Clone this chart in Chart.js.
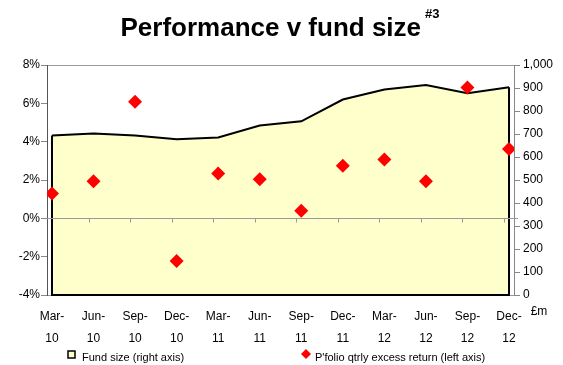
<!DOCTYPE html>
<html>
<head>
<meta charset="utf-8">
<title>Performance v fund size</title>
<script src="https://cdn.jsdelivr.net/npm/chart.js@4"></script>
<style>
  html, body { margin: 0; padding: 0; background: #fff; }
  #wrap { width: 563px; height: 365px; }
</style>
</head>
<body>
<div id="wrap"><canvas id="perfChart" width="563" height="365"></canvas></div>
<script>
// Quarter ends, fund size (£m, right axis) and quarterly excess return (%, left axis)
const quarters = ['Mar-10', 'Jun-10', 'Sep-10', 'Dec-10', 'Mar-11', 'Jun-11',
                  'Sep-11', 'Dec-11', 'Mar-12', 'Jun-12', 'Sep-12', 'Dec-12'];
const fundSize = [693, 702, 693, 677, 685, 737, 755, 850, 893, 913, 877, 903];
const excessReturn = [1.30, 1.94, 6.08, -2.23, 2.34, 2.04, 0.39, 2.75, 3.07, 1.94, 6.83, 3.62];

const returnTicks = [-4, -2, 0, 2, 4, 6, 8];
const sizeTicks = [0, 100, 200, 300, 400, 500, 600, 700, 800, 900, 1000];

const FONT = "'Liberation Sans', Arial, sans-serif";

// Outline the sides/bottom of the fund-size area and draw the 0% line over it
const areaEdges = {
    id: 'areaEdges',
    afterDatasetDraw(chart, args) {
        if (args.index !== 0) return;
        const pts = args.meta.data;
        const ctx = chart.ctx;
        const bottom = chart.scales.y1.getPixelForValue(0);
        const first = pts[0], last = pts[pts.length - 1];
        ctx.save();
        ctx.strokeStyle = '#000';
        ctx.lineWidth = 2;
        ctx.lineJoin = 'miter';
        ctx.beginPath();
        ctx.moveTo(first.x, first.y);
        ctx.lineTo(first.x, bottom);
        ctx.lineTo(last.x, bottom);
        ctx.lineTo(last.x, last.y);
        ctx.stroke();

        // zero line with small category ticks
        const y0 = Math.round(chart.scales.y.getPixelForValue(0)) + 0.5;
        const area = chart.chartArea;
        ctx.strokeStyle = '#999';
        ctx.lineWidth = 1;
        ctx.beginPath();
        ctx.moveTo(area.left, y0);
        ctx.lineTo(area.right + 4, y0);
        for (let i = 1; i < quarters.length; i++) {
            const x = Math.round(chart.scales.x.getPixelForValue(i - 0.12)) + 0.5;
            ctx.moveTo(x, y0);
            ctx.lineTo(x, y0 + 4);
        }
        ctx.stroke();
        ctx.restore();
    }
};

// Title with superscript, '£m' unit label and the legend row
const decorations = {
    id: 'decorations',
    afterDraw(chart) {
        const ctx = chart.ctx;
        ctx.save();
        ctx.fillStyle = '#000';
        ctx.textBaseline = 'alphabetic';
        ctx.textAlign = 'left';

        const main = 'Performance v fund size';
        const sup = '#3';
        ctx.font = 'bold 26px ' + FONT;
        const wMain = ctx.measureText(main).width;
        ctx.font = 'bold 13px ' + FONT;
        const wSup = ctx.measureText(sup).width;
        const startX = 280 - (wMain + 4 + wSup) / 2;
        ctx.font = 'bold 26px ' + FONT;
        ctx.fillText(main, startX, 36);
        ctx.font = 'bold 13px ' + FONT;
        ctx.fillText(sup, startX + wMain + 4, 18);

        ctx.font = '12px ' + FONT;
        ctx.textAlign = 'center';
        ctx.fillText('£m', 539, 315);

        // legend
        ctx.font = '11px ' + FONT;
        ctx.textAlign = 'left';
        ctx.fillStyle = '#FFFFCC';
        ctx.fillRect(68, 351, 7, 7);
        ctx.strokeStyle = '#000';
        ctx.lineWidth = 1.5;
        ctx.strokeRect(68, 351, 7, 7);
        ctx.fillStyle = '#000';
        ctx.fillText('Fund size (right axis)', 82, 361);

        ctx.fillStyle = '#FF0000';
        ctx.beginPath();
        ctx.moveTo(306, 349);
        ctx.lineTo(311, 354);
        ctx.lineTo(306, 359);
        ctx.lineTo(301, 354);
        ctx.closePath();
        ctx.fill();
        ctx.fillStyle = '#000';
        ctx.fillText("P'folio qtrly excess return (left axis)", 315, 361);
        ctx.restore();
    }
};

const ctx = document.getElementById('perfChart').getContext('2d');
new Chart(ctx, {
    data: {
        datasets: [{
            type: 'line',
            label: 'Fund size (right axis)',
            data: fundSize.map((v, i) => ({ x: i, y: v })),
            yAxisID: 'y1',
            order: 2,
            fill: 'origin',
            backgroundColor: '#FFFFCC',
            borderColor: '#000',
            borderWidth: 2,
            pointRadius: 0,
            tension: 0
        }, {
            type: 'scatter',
            label: "P'folio qtrly excess return (left axis)",
            data: excessReturn.map((v, i) => ({ x: i, y: v })),
            yAxisID: 'y',
            order: 1,
            pointStyle: 'rectRot',
            pointRadius: 7,
            pointBackgroundColor: '#FF0000',
            pointBorderColor: '#FF0000',
            pointBorderWidth: 0
        }]
    },
    options: {
        responsive: false,
        animation: false,
        layout: { padding: { top: 65, left: 0, right: 0, bottom: 20 } },
        plugins: {
            legend: { display: false },
            title: { display: false },
            tooltip: { enabled: false }
        },
        scales: {
            x: {
                type: 'linear',
                min: -0.12,
                max: quarters.length - 1 + 0.12,
                afterBuildTicks: scale => { scale.ticks = quarters.map((q, i) => ({ value: i })); },
                afterFit: scale => { scale.height = 50; },
                grid: { display: false, drawTicks: false },
                border: { display: true, color: '#999' },
                ticks: {
                    autoSkip: false,
                    maxRotation: 0,
                    padding: 11,
                    color: '#000',
                    font: { family: FONT, size: 12, lineHeight: '22px' },
                    callback: v => {
                        const q = quarters[Math.round(v)];
                        if (!q) return '';
                        const parts = q.split('-');
                        return [parts[0] + '-', parts[1]];
                    }
                }
            },
            y: {
                position: 'left',
                min: -4,
                max: 8,
                afterBuildTicks: scale => { scale.ticks = returnTicks.map(v => ({ value: v })); },
                afterFit: scale => { scale.width = 47; },
                grid: {
                    drawOnChartArea: true,
                    color: c => (c.tick && c.tick.value === 8 ? '#999' : 'rgba(0,0,0,0)'),
                    tickColor: '#888',
                    tickLength: 6
                },
                border: { display: true, color: '#555', width: 1 },
                ticks: {
                    padding: 1,
                    color: '#000',
                    font: { family: FONT, size: 12 },
                    callback: v => v + '%'
                }
            },
            y1: {
                position: 'right',
                min: 0,
                max: 1000,
                afterBuildTicks: scale => { scale.ticks = sizeTicks.map(v => ({ value: v })); },
                afterFit: scale => { scale.width = 49; },
                grid: { drawOnChartArea: false, tickColor: '#888', tickLength: 6 },
                border: { display: true, color: '#888', width: 1 },
                ticks: {
                    padding: 3,
                    color: '#000',
                    font: { family: FONT, size: 12 },
                    callback: v => v.toLocaleString('en-GB')
                }
            }
        }
    },
    plugins: [areaEdges, decorations]
});
</script>
</body>
</html>
